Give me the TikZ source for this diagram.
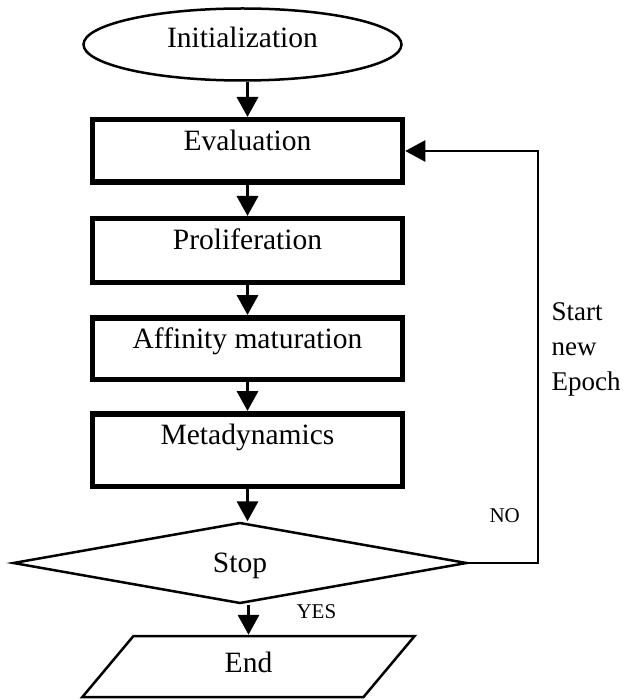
\documentclass[tikz,border=0pt]{standalone}
\usepackage{fontspec}
\setmainfont{Liberation Serif}
\usepackage{tikz}
\usetikzlibrary{arrows.meta, positioning, shapes.geometric}

\begin{document}
\begin{tikzpicture}[x=1pt, y=-1pt, >=Stealth,
		stage/.style={draw, line width=5.5pt, minimum width=310pt, inner sep=0pt,
			text height=31pt, text depth=#1, font=\fontsize{29.5}{34}\selectfont},
		flow/.style={-{Triangle[width=21pt, length=20pt]}, line width=3.5pt},
		tag/.style={anchor=base west, font=\fontsize{21}{25}\selectfont}]
		
		% 1. 画布大小 (与原图 625 x 700 相同)
		\useasboundingbox (0, 0) rectangle (625, 700);
		
		% 2. 起始椭圆
		\node[draw, ellipse, line width=2.5pt, minimum width=318pt, minimum height=72pt, inner sep=0pt,
			text height=20pt, text depth=13pt, font=\fontsize{29.5}{34}\selectfont]
			(init) at (242.5, 44.5) {Initialization};
		
		% 3. 四个处理步骤 (粗边框矩形)
		\node[stage=31.5pt, anchor=north] (eval) at (247.5, 117) {Evaluation};
		\node[stage=32.5pt, below=31pt of eval] (prolif) {Proliferation};
		\node[stage=30.5pt, below=30pt of prolif] (affin) {Affinity maturation};
		\node[stage=41.5pt, below=29pt of affin] (meta) {Metadynamics};
		
		% 4. 判断菱形与结束平行四边形
		\node[draw, diamond, line width=2.5pt, minimum width=454pt, minimum height=81pt, inner sep=0pt,
			text height=20pt, text depth=2pt, font=\fontsize{29.5}{34}\selectfont]
			(stop) at (240, 563) {Stop};
		\node[draw, trapezium, trapezium left angle=70, trapezium right angle=110, trapezium stretches=true,
			line width=2.5pt, minimum width=334pt, minimum height=61pt, inner sep=0pt,
			text height=20pt, text depth=9pt, font=\fontsize{29.5}{34}\selectfont]
			(end) at (248.5, 666.5) {End};
		
		% 5. 主流程箭头
		\draw[flow] (init.south -| eval.north) -- (eval.north);
		\draw[flow] (eval) -- (prolif);
		\draw[flow] (prolif) -- (affin);
		\draw[flow] (affin) -- (meta);
		\draw[flow] (meta.south) -- (meta.south |- stop.north);
		\draw[flow] (stop.south -| end.north) -- (end.north);
		
		% 6. 回到 Evaluation 的回路 (NO 分支)
		\coordinate (Loop) at (538, 151);   % 回路右上角
		\draw[-{Triangle[width=21pt, length=20pt]}, line width=2.5pt] (stop.east) -| (Loop) -- (eval.east);
		
		% 7. 文字标注
		\node[tag] (no) at (486, 522) {NO};
		\node[tag] (yes) at (293, 618) {YES};
		\node[anchor=base west, align=left, font=\fontsize{27}{35}\selectfont] (epoch) at (548, 390) {Start\\new\\Epoch};
		
	\end{tikzpicture}
\end{document}
